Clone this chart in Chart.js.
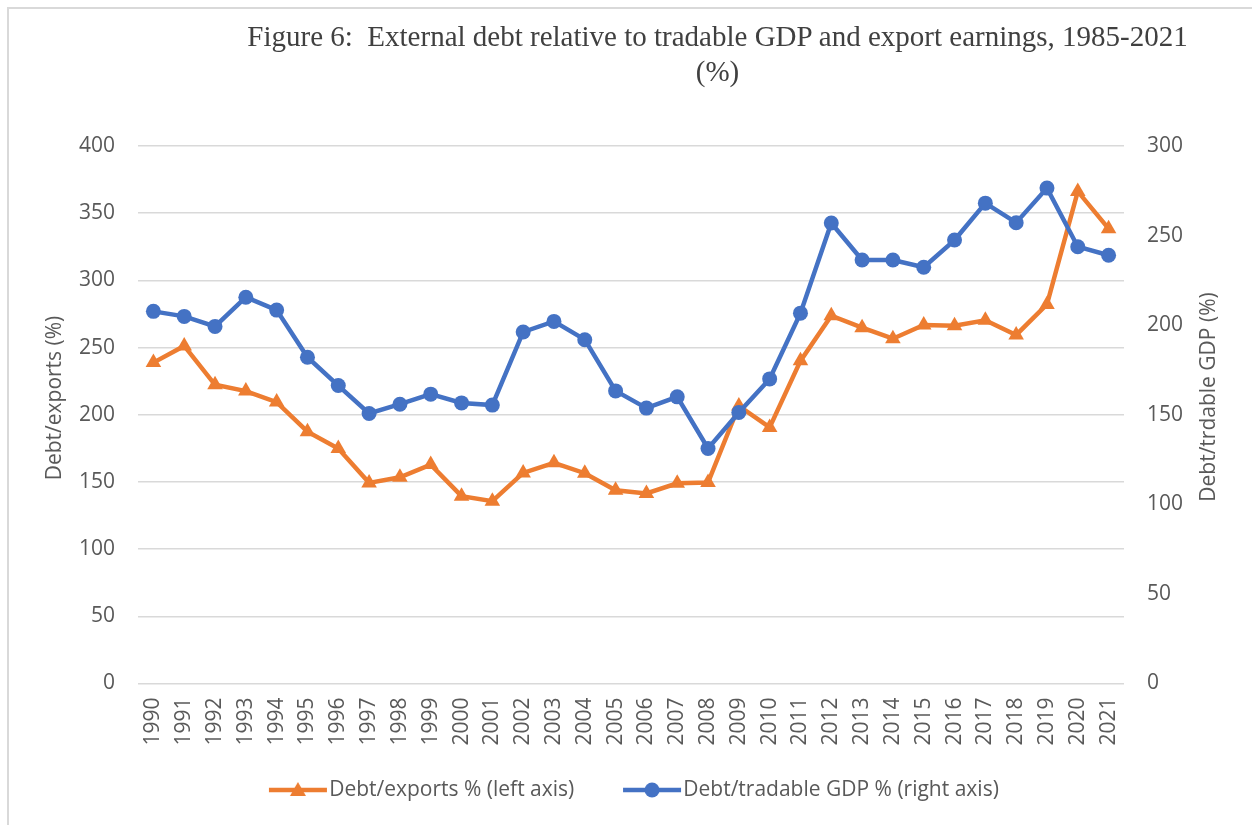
<!DOCTYPE html>
<html>
<head>
<meta charset="utf-8">
<title>External debt relative to tradable GDP and export earnings</title>
<script src="https://cdn.jsdelivr.net/npm/chart.js@4.4.1/dist/chart.umd.min.js"></script>
<style>
  html, body { margin: 0; padding: 0; background: #fff; overflow: hidden; }
  #wrap { position: relative; width: 1252px; height: 825px; }
  #frame { position: absolute; left: 7px; top: 7px; width: 1300px; height: 900px;
           border-top: 2px solid #d9d9d9; border-left: 2px solid #d9d9d9; }
  #title { position: absolute; left: 200px; width: 1035px; top: 19px; text-align: center;
           font-family: "Liberation Serif", "DejaVu Serif", serif; font-size: 29px;
           line-height: 35px; color: #404040; }
  #chartBox { position: absolute; left: 0; top: 0; width: 1252px; height: 825px; }
</style>
</head>
<body>
<div id="wrap">
  <div id="frame"></div>
  <div id="chartBox"><canvas id="debtChart"></canvas></div>
  <div id="title">Figure 6:&nbsp; External debt relative to tradable GDP and export earnings, 1985-2021<br>(%)</div>
</div>
<script>
// Données
const years = ['1990', '1991', '1992', '1993', '1994', '1995', '1996', '1997', '1998', '1999',
               '2000', '2001', '2002', '2003', '2004', '2005', '2006', '2007', '2008', '2009',
               '2010', '2011', '2012', '2013', '2014', '2015', '2016', '2017', '2018', '2019',
               '2020', '2021'];

// Debt/exports % (axe de gauche)
const debtExports = [238.8, 251.2, 222.3, 217.6, 209.4, 187.4, 174.8, 149.3, 153.5, 162.9,
                     139.4, 135.7, 156.7, 164.2, 156.5, 143.8, 141.4, 149.0, 149.5, 206.5,
                     190.6, 240.1, 273.7, 264.8, 256.6, 266.8, 266.3, 270.3, 259.4, 282.1,
                     366.2, 338.5];

// Debt/tradable GDP % (axe de droite)
const debtTradableGdp = [207.7, 204.9, 199.3, 215.6, 208.4, 182.1, 166.3, 150.7, 155.9, 161.5,
                         156.6, 155.4, 196.2, 202.1, 191.9, 163.3, 153.7, 160.0, 131.2, 151.3,
                         170.0, 206.7, 257.0, 236.4, 236.4, 232.3, 247.5, 268.1, 257.2, 276.5,
                         243.8, 239.0];

const leftTicks = { min: 0, max: 400, step: 50 };
const rightTicks = { min: 0, max: 300, step: 50 };

const ORANGE = '#ED7D31';
const BLUE = '#4472C4';
const TEXT = '#595959';
const FONT = '"Open Sans", "DejaVu Sans", sans-serif';
const FONT_SIZE = 21;

// petite image "ligne + marqueur" pour la légende (moitié gauche transparente)
function legendSwatch(color, style) {
    const c = document.createElement('canvas');
    c.width = 84;
    c.height = 20;
    const ctx = c.getContext('2d');
    const x0 = 25, x1 = 83, mid = (x0 + x1) / 2;
    ctx.strokeStyle = color;
    ctx.lineWidth = 4.5;
    ctx.beginPath();
    ctx.moveTo(x0, 10);
    ctx.lineTo(x1, 10);
    ctx.stroke();
    ctx.fillStyle = color;
    ctx.beginPath();
    if (style === 'circle') {
        ctx.arc(mid, 10, 7.5, 0, Math.PI * 2);
    } else {
        ctx.moveTo(mid, 2);
        ctx.lineTo(mid + 8, 16);
        ctx.lineTo(mid - 8, 16);
        ctx.closePath();
    }
    ctx.fill();
    return c;
}

// titres des axes verticaux
const axisTitles = {
    id: 'axisTitles',
    afterDraw(chart) {
        const { ctx, chartArea } = chart;
        const draw = (text, x, y) => {
            ctx.save();
            ctx.fillStyle = TEXT;
            ctx.font = FONT_SIZE + 'px ' + FONT;
            ctx.textAlign = 'center';
            ctx.textBaseline = 'middle';
            ctx.translate(x, y);
            ctx.rotate(-Math.PI / 2);
            ctx.fillText(text, 0, 0);
            ctx.restore();
        };
        draw('Debt/exports (%)', chartArea.left - 83, chartArea.top + 252);
        draw('Debt/trdable GDP (%)', chartArea.right + 85, chartArea.top + 251);
    }
};

const swatches = [legendSwatch(ORANGE, 'triangle'), legendSwatch(BLUE, 'circle')];

const debtCtx = document.getElementById('debtChart').getContext('2d');
new Chart(debtCtx, {
    type: 'line',
    data: {
        labels: years,
        datasets: [{
            label: 'Debt/exports % (left axis)',
            data: debtExports,
            yAxisID: 'yLeft',
            borderColor: ORANGE,
            backgroundColor: ORANGE,
            borderWidth: 4.5,
            pointStyle: 'triangle',
            pointRadius: 9,
            pointBorderWidth: 0,
            order: 1
        }, {
            label: 'Debt/tradable GDP % (right axis)',
            data: debtTradableGdp,
            yAxisID: 'yRight',
            borderColor: BLUE,
            backgroundColor: BLUE,
            borderWidth: 4.5,
            pointStyle: 'circle',
            pointRadius: 7.5,
            pointBorderWidth: 0,
            order: 0
        }]
    },
    options: {
        responsive: true,
        maintainAspectRatio: false,
        animation: false,
        layout: { padding: { top: 146, bottom: 14.5, left: 0, right: 0 } },
        scales: {
            x: {
                offset: true,
                grid: { display: false },
                border: { display: false },
                ticks: {
                    color: TEXT,
                    font: { family: FONT, size: FONT_SIZE },
                    minRotation: 90,
                    maxRotation: 90,
                    padding: 6,
                    autoSkip: false
                },
                afterFit: (scale) => { scale.height = 63; }
            },
            yLeft: {
                position: 'left',
                min: leftTicks.min,
                max: leftTicks.max,
                ticks: { stepSize: leftTicks.step, color: TEXT, font: { family: FONT, size: FONT_SIZE }, padding: 23 },
                grid: { color: '#d9d9d9', lineWidth: 1.5, drawTicks: false },
                border: { display: false },
                afterFit: (scale) => { scale.width = 138; }
            },
            yRight: {
                position: 'right',
                min: rightTicks.min,
                max: rightTicks.max,
                ticks: { stepSize: rightTicks.step, color: TEXT, font: { family: FONT, size: FONT_SIZE }, padding: 23 },
                grid: { display: false, drawTicks: false },
                border: { display: false },
                afterFit: (scale) => { scale.width = 128; }
            }
        },
        plugins: {
            tooltip: { enabled: false },
            legend: {
                position: 'bottom',
                labels: {
                    color: TEXT,
                    font: { family: FONT, size: FONT_SIZE },
                    usePointStyle: true,
                    pointStyleWidth: 65.5,
                    boxHeight: 19,
                    padding: 33,
                    generateLabels: (chart) => chart.data.datasets.map((ds, i) => ({
                        text: ds.label,
                        fontColor: TEXT,
                        pointStyle: swatches[i],
                        datasetIndex: i,
                        lineWidth: 0,
                        hidden: false
                    }))
                }
            }
        }
    },
    plugins: [axisTitles]
});
</script>
</body>
</html>
